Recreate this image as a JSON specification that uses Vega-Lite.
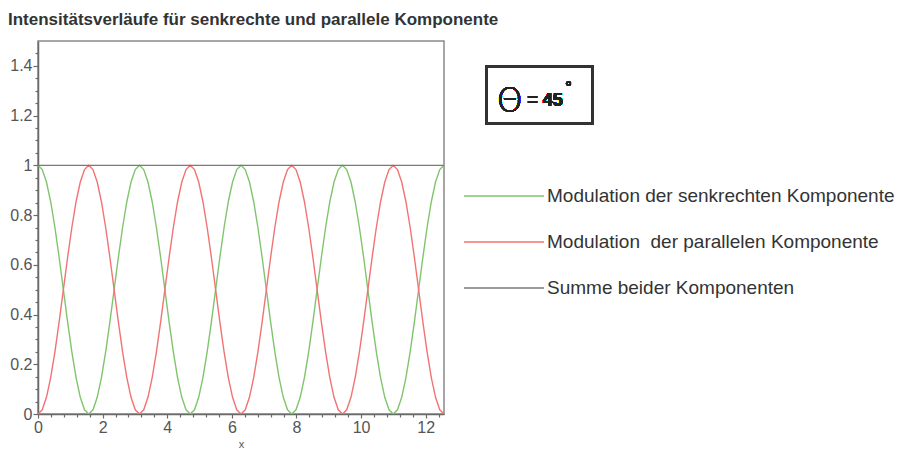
{
  "$schema": "https://vega.github.io/schema/vega-lite/v6.json",
  "autosize": "none",
  "width": 406,
  "height": 373,
  "padding": {"left": 38, "top": 41, "right": 461, "bottom": 36},
  "background": "white",
  "title": {
    "text": "Intensitätsverläufe für senkrechte und parallele Komponente",
    "anchor": "start",
    "frame": "group",
    "dx": -30,
    "offset": 12,
    "font": "Liberation Sans",
    "fontSize": 17,
    "fontWeight": "bold",
    "color": "#333"
  },
  "config": {
    "view": {"stroke": "#8a8a8a", "strokeWidth": 1.5},
    "axis": {
      "grid": false,
      "domainColor": "#6a6a6a",
      "domainWidth": 1.5,
      "tickColor": "#6a6a6a",
      "tickWidth": 1.2,
      "labelFont": "Liberation Sans",
      "labelFontSize": 16,
      "labelColor": "#555",
      "labelFlush": false,
      "labelOverlap": false,
      "titleFont": "Liberation Sans",
      "titleFontSize": 11,
      "titleFontWeight": "normal",
      "titleColor": "#555"
    }
  },
  "data": {
    "values": [
      {"x": 0, "senkrecht": 1, "parallel": 0, "summe": 1},
      {"x": 0.1309, "senkrecht": 0.983, "parallel": 0.017, "summe": 1},
      {"x": 0.2618, "senkrecht": 0.933, "parallel": 0.067, "summe": 1},
      {"x": 0.3927, "senkrecht": 0.8536, "parallel": 0.1464, "summe": 1},
      {"x": 0.5236, "senkrecht": 0.75, "parallel": 0.25, "summe": 1},
      {"x": 0.6545, "senkrecht": 0.6294, "parallel": 0.3706, "summe": 1},
      {"x": 0.7854, "senkrecht": 0.5, "parallel": 0.5, "summe": 1},
      {"x": 0.9163, "senkrecht": 0.3706, "parallel": 0.6294, "summe": 1},
      {"x": 1.0472, "senkrecht": 0.25, "parallel": 0.75, "summe": 1},
      {"x": 1.1781, "senkrecht": 0.1464, "parallel": 0.8536, "summe": 1},
      {"x": 1.309, "senkrecht": 0.067, "parallel": 0.933, "summe": 1},
      {"x": 1.4399, "senkrecht": 0.017, "parallel": 0.983, "summe": 1},
      {"x": 1.5708, "senkrecht": 0, "parallel": 1, "summe": 1},
      {"x": 1.7017, "senkrecht": 0.017, "parallel": 0.983, "summe": 1},
      {"x": 1.8326, "senkrecht": 0.067, "parallel": 0.933, "summe": 1},
      {"x": 1.9635, "senkrecht": 0.1464, "parallel": 0.8536, "summe": 1},
      {"x": 2.0944, "senkrecht": 0.25, "parallel": 0.75, "summe": 1},
      {"x": 2.2253, "senkrecht": 0.3706, "parallel": 0.6294, "summe": 1},
      {"x": 2.3562, "senkrecht": 0.5, "parallel": 0.5, "summe": 1},
      {"x": 2.4871, "senkrecht": 0.6294, "parallel": 0.3706, "summe": 1},
      {"x": 2.618, "senkrecht": 0.75, "parallel": 0.25, "summe": 1},
      {"x": 2.7489, "senkrecht": 0.8536, "parallel": 0.1464, "summe": 1},
      {"x": 2.8798, "senkrecht": 0.933, "parallel": 0.067, "summe": 1},
      {"x": 3.0107, "senkrecht": 0.983, "parallel": 0.017, "summe": 1},
      {"x": 3.1416, "senkrecht": 1, "parallel": 0, "summe": 1},
      {"x": 3.2725, "senkrecht": 0.983, "parallel": 0.017, "summe": 1},
      {"x": 3.4034, "senkrecht": 0.933, "parallel": 0.067, "summe": 1},
      {"x": 3.5343, "senkrecht": 0.8536, "parallel": 0.1464, "summe": 1},
      {"x": 3.6652, "senkrecht": 0.75, "parallel": 0.25, "summe": 1},
      {"x": 3.7961, "senkrecht": 0.6294, "parallel": 0.3706, "summe": 1},
      {"x": 3.927, "senkrecht": 0.5, "parallel": 0.5, "summe": 1},
      {"x": 4.0579, "senkrecht": 0.3706, "parallel": 0.6294, "summe": 1},
      {"x": 4.1888, "senkrecht": 0.25, "parallel": 0.75, "summe": 1},
      {"x": 4.3197, "senkrecht": 0.1464, "parallel": 0.8536, "summe": 1},
      {"x": 4.4506, "senkrecht": 0.067, "parallel": 0.933, "summe": 1},
      {"x": 4.5815, "senkrecht": 0.017, "parallel": 0.983, "summe": 1},
      {"x": 4.7124, "senkrecht": 0, "parallel": 1, "summe": 1},
      {"x": 4.8433, "senkrecht": 0.017, "parallel": 0.983, "summe": 1},
      {"x": 4.9742, "senkrecht": 0.067, "parallel": 0.933, "summe": 1},
      {"x": 5.1051, "senkrecht": 0.1464, "parallel": 0.8536, "summe": 1},
      {"x": 5.236, "senkrecht": 0.25, "parallel": 0.75, "summe": 1},
      {"x": 5.3669, "senkrecht": 0.3706, "parallel": 0.6294, "summe": 1},
      {"x": 5.4978, "senkrecht": 0.5, "parallel": 0.5, "summe": 1},
      {"x": 5.6287, "senkrecht": 0.6294, "parallel": 0.3706, "summe": 1},
      {"x": 5.7596, "senkrecht": 0.75, "parallel": 0.25, "summe": 1},
      {"x": 5.8905, "senkrecht": 0.8536, "parallel": 0.1464, "summe": 1},
      {"x": 6.0214, "senkrecht": 0.933, "parallel": 0.067, "summe": 1},
      {"x": 6.1523, "senkrecht": 0.983, "parallel": 0.017, "summe": 1},
      {"x": 6.2832, "senkrecht": 1, "parallel": 0, "summe": 1},
      {"x": 6.4141, "senkrecht": 0.983, "parallel": 0.017, "summe": 1},
      {"x": 6.545, "senkrecht": 0.933, "parallel": 0.067, "summe": 1},
      {"x": 6.6759, "senkrecht": 0.8536, "parallel": 0.1464, "summe": 1},
      {"x": 6.8068, "senkrecht": 0.75, "parallel": 0.25, "summe": 1},
      {"x": 6.9377, "senkrecht": 0.6294, "parallel": 0.3706, "summe": 1},
      {"x": 7.0686, "senkrecht": 0.5, "parallel": 0.5, "summe": 1},
      {"x": 7.1995, "senkrecht": 0.3706, "parallel": 0.6294, "summe": 1},
      {"x": 7.3304, "senkrecht": 0.25, "parallel": 0.75, "summe": 1},
      {"x": 7.4613, "senkrecht": 0.1464, "parallel": 0.8536, "summe": 1},
      {"x": 7.5922, "senkrecht": 0.067, "parallel": 0.933, "summe": 1},
      {"x": 7.7231, "senkrecht": 0.017, "parallel": 0.983, "summe": 1},
      {"x": 7.854, "senkrecht": 0, "parallel": 1, "summe": 1},
      {"x": 7.9849, "senkrecht": 0.017, "parallel": 0.983, "summe": 1},
      {"x": 8.1158, "senkrecht": 0.067, "parallel": 0.933, "summe": 1},
      {"x": 8.2467, "senkrecht": 0.1464, "parallel": 0.8536, "summe": 1},
      {"x": 8.3776, "senkrecht": 0.25, "parallel": 0.75, "summe": 1},
      {"x": 8.5085, "senkrecht": 0.3706, "parallel": 0.6294, "summe": 1},
      {"x": 8.6394, "senkrecht": 0.5, "parallel": 0.5, "summe": 1},
      {"x": 8.7703, "senkrecht": 0.6294, "parallel": 0.3706, "summe": 1},
      {"x": 8.9012, "senkrecht": 0.75, "parallel": 0.25, "summe": 1},
      {"x": 9.0321, "senkrecht": 0.8536, "parallel": 0.1464, "summe": 1},
      {"x": 9.163, "senkrecht": 0.933, "parallel": 0.067, "summe": 1},
      {"x": 9.2939, "senkrecht": 0.983, "parallel": 0.017, "summe": 1},
      {"x": 9.4248, "senkrecht": 1, "parallel": 0, "summe": 1},
      {"x": 9.5557, "senkrecht": 0.983, "parallel": 0.017, "summe": 1},
      {"x": 9.6866, "senkrecht": 0.933, "parallel": 0.067, "summe": 1},
      {"x": 9.8175, "senkrecht": 0.8536, "parallel": 0.1464, "summe": 1},
      {"x": 9.9484, "senkrecht": 0.75, "parallel": 0.25, "summe": 1},
      {"x": 10.0793, "senkrecht": 0.6294, "parallel": 0.3706, "summe": 1},
      {"x": 10.2102, "senkrecht": 0.5, "parallel": 0.5, "summe": 1},
      {"x": 10.3411, "senkrecht": 0.3706, "parallel": 0.6294, "summe": 1},
      {"x": 10.472, "senkrecht": 0.25, "parallel": 0.75, "summe": 1},
      {"x": 10.6029, "senkrecht": 0.1464, "parallel": 0.8536, "summe": 1},
      {"x": 10.7338, "senkrecht": 0.067, "parallel": 0.933, "summe": 1},
      {"x": 10.8647, "senkrecht": 0.017, "parallel": 0.983, "summe": 1},
      {"x": 10.9956, "senkrecht": 0, "parallel": 1, "summe": 1},
      {"x": 11.1265, "senkrecht": 0.017, "parallel": 0.983, "summe": 1},
      {"x": 11.2574, "senkrecht": 0.067, "parallel": 0.933, "summe": 1},
      {"x": 11.3883, "senkrecht": 0.1464, "parallel": 0.8536, "summe": 1},
      {"x": 11.5192, "senkrecht": 0.25, "parallel": 0.75, "summe": 1},
      {"x": 11.6501, "senkrecht": 0.3706, "parallel": 0.6294, "summe": 1},
      {"x": 11.781, "senkrecht": 0.5, "parallel": 0.5, "summe": 1},
      {"x": 11.9119, "senkrecht": 0.6294, "parallel": 0.3706, "summe": 1},
      {"x": 12.0428, "senkrecht": 0.75, "parallel": 0.25, "summe": 1},
      {"x": 12.1737, "senkrecht": 0.8536, "parallel": 0.1464, "summe": 1},
      {"x": 12.3046, "senkrecht": 0.933, "parallel": 0.067, "summe": 1},
      {"x": 12.4355, "senkrecht": 0.983, "parallel": 0.017, "summe": 1},
      {"x": 12.5664, "senkrecht": 1, "parallel": 0, "summe": 1}
    ]
  },
  "resolve": {"axis": {"x": "independent", "y": "independent"}},
  "layer": [
    {
      "transform": [
        {"fold": ["senkrecht", "parallel", "summe"], "as": ["kurve", "intensitaet"]}
      ],
      "mark": {"type": "line", "clip": true},
      "encoding": {
        "x": {
          "field": "x",
          "type": "quantitative",
          "scale": {"domain": [0, 12.5664], "nice": false, "zero": false},
          "axis": {
            "orient": "bottom",
            "title": "x",
            "titlePadding": 3,
            "values": [0, 2, 4, 6, 8, 10, 12],
            "format": "d",
            "tickSize": 4,
            "labelPadding": 1
          }
        },
        "y": {
          "field": "intensitaet",
          "type": "quantitative",
          "scale": {"domain": [0, 1.5], "nice": false},
          "axis": {
            "orient": "left",
            "title": null,
            "values": [0, 0.2, 0.4, 0.6, 0.8, 1, 1.2, 1.4],
            "format": "~g",
            "tickSize": 5,
            "labelPadding": 1
          }
        },
        "color": {
          "field": "kurve",
          "type": "nominal",
          "scale": {"domain": ["senkrecht", "parallel", "summe"], "range": ["#80c56e", "#f27373", "#7a7a7a"]},
          "legend": {
            "orient": "none",
            "legendX": 425,
            "legendY": 133,
            "title": null,
            "symbolType": "stroke",
            "symbolSize": 6400,
            "symbolStrokeWidth": 1.5,
            "clipHeight": 44,
            "rowPadding": 2,
            "labelFont": "Liberation Sans",
            "labelFontSize": 19,
            "labelColor": "#333",
            "labelOffset": 2,
            "labelLimit": 600,
            "labelExpr": "datum.label == 'senkrecht' ? 'Modulation der senkrechten Komponente' : datum.label == 'parallel' ? 'Modulation\u00a0 der parallelen Komponente' : 'Summe beider Komponenten'"
          }
        },
        "strokeWidth": {
          "field": "kurve",
          "type": "nominal",
          "scale": {"domain": ["senkrecht", "parallel", "summe"], "range": [1.4, 1.4, 2.4]},
          "legend": null
        }
      }
    },
    {
      "mark": {"type": "rect", "clip": false, "fill": null, "stroke": "#333", "strokeWidth": 2},
      "encoding": {
        "x": {
          "datum": 13.88,
          "type": "quantitative",
          "axis": {
            "orient": "bottom",
            "title": null,
            "labels": false,
            "domain": false,
            "tickSize": 3,
            "values": [0.4, 0.8, 1.2, 1.6, 2.4, 2.8, 3.2, 3.6, 4.4, 4.8, 5.2, 5.6, 6.4, 6.8, 7.2, 7.6, 8.4, 8.8, 9.2, 9.6, 10.4, 10.8, 11.2, 11.6, 12.4]
          }
        },
        "x2": {"datum": 17.17},
        "y": {
          "datum": 1.396,
          "type": "quantitative",
          "axis": {
            "orient": "left",
            "title": null,
            "labels": false,
            "domain": false,
            "tickSize": 3,
            "values": [0.05, 0.1, 0.15, 0.25, 0.3, 0.35, 0.45, 0.5, 0.55, 0.65, 0.7, 0.75, 0.85, 0.9, 0.95, 1.05, 1.1, 1.15, 1.25, 1.3, 1.35, 1.45]
          }
        },
        "y2": {"datum": 1.168}
      }
    },
    {
      "mark": {"type": "text", "clip": false, "text": "Θ", "font": "DejaVu Sans", "fontSize": 33, "fontWeight": 300, "align": "center", "baseline": "alphabetic", "color": "#222"},
      "encoding": {
        "x": {"datum": 14.6, "type": "quantitative", "axis": null},
        "y": {"datum": 1.215, "type": "quantitative", "axis": null}
      }
    },
    {
      "mark": {"type": "text", "clip": false, "text": "= 45", "font": "Liberation Sans", "fontSize": 18, "fontWeight": "bold", "align": "left", "baseline": "alphabetic", "color": "#222"},
      "encoding": {
        "x": {"datum": 15.14, "type": "quantitative", "axis": null},
        "y": {"datum": 1.24, "type": "quantitative", "axis": null}
      }
    },
    {
      "mark": {"type": "text", "clip": false, "text": "°", "font": "Liberation Sans", "fontSize": 16, "align": "left", "baseline": "top", "color": "#222"},
      "encoding": {
        "x": {"datum": 16.32, "type": "quantitative", "axis": null},
        "y": {"datum": 1.345, "type": "quantitative", "axis": null}
      }
    }
  ]
}
